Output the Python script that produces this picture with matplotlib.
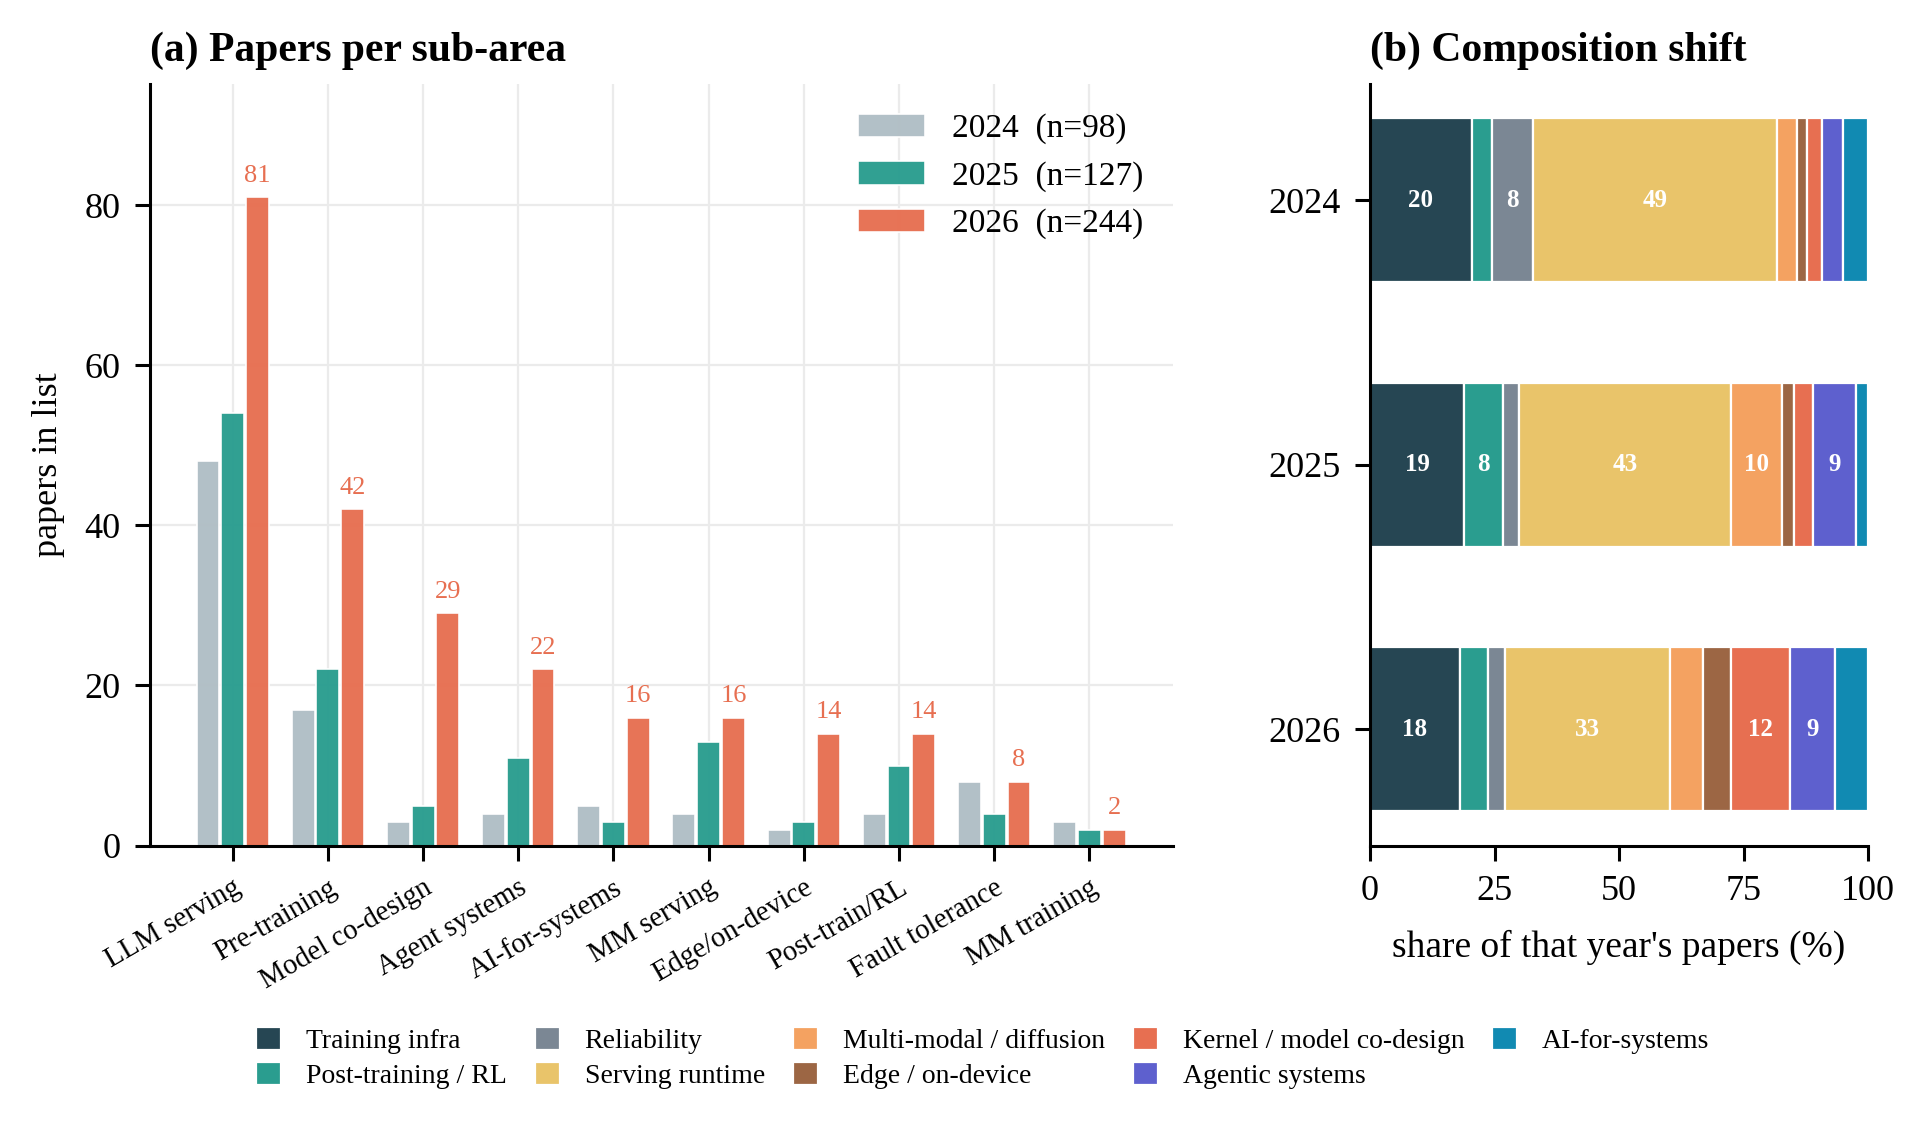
import numpy as np
import matplotlib.pyplot as plt

plt.rcParams['font.family'] = ['Liberation Serif', 'DejaVu Serif']

# papers per sub-area, by year
years = ["2024", "2025", "2026"]
subareas = ["LLM serving", "Pre-training", "Model co-design", "Agent systems",
            "AI-for-systems", "MM serving", "Edge/on-device", "Post-train/RL",
            "Fault tolerance", "MM training"]
counts_2024 = [48, 17, 3, 4, 5, 4, 2, 4, 8, 3]
counts_2025 = [54, 22, 5, 11, 3, 13, 3, 10, 4, 2]
counts_2026 = [81, 42, 29, 22, 16, 16, 14, 14, 8, 2]
year_colors = ["#b0bec5", "#2a9d8f", "#e76f51"]

# coarser groups for the composition panel
groups = ["Training infra", "Post-training / RL", "Reliability", "Serving runtime",
          "Multi-modal / diffusion", "Edge / on-device", "Kernel / model co-design",
          "Agentic systems", "AI-for-systems"]
group_2024 = [20, 4, 8, 48, 4, 2, 3, 4, 5]
group_2025 = [24, 10, 4, 54, 13, 3, 5, 11, 3]
group_2026 = [44, 14, 8, 81, 16, 14, 29, 22, 16]
group_colors = ["#264653", "#2a9d8f", "#7b8794", "#e9c46a", "#f4a261",
                "#9c6644", "#e76f51", "#5e60ce", "#118ab2"]

fig = plt.figure(figsize=(9.635, 5.645), dpi=200)
ax1 = fig.add_axes([0.0778, 0.251, 0.531, 0.675])
ax2 = fig.add_axes([0.711, 0.251, 0.2584, 0.675])

# (a) grouped bars
x = np.arange(len(subareas))
all_counts = [counts_2024, counts_2025, counts_2026]
for i, (yr, cnt, col) in enumerate(zip(years, all_counts, year_colors)):
    ax1.bar(x + (i - 1) * 0.26, cnt, width=0.24, color=col, edgecolor="white",
            linewidth=0.6, alpha=0.97, zorder=2,
            label=f"{yr}  (n={sum(cnt)})")
for xi, v in zip(x, counts_2026):
    ax1.text(xi + 0.26, v + 1.3, str(v), ha="center", va="bottom",
             fontsize=9.5, color=year_colors[2])

ax1.set_xticks(x)
ax1.set_xticklabels(subareas, rotation=30, ha="right", rotation_mode="anchor",
                    fontsize=10.3)
ax1.set_xlim(-0.87, 9.88)
ax1.set_ylim(0, max(counts_2026) * 1.175)
ax1.set_yticks([0, 20, 40, 60, 80])
ax1.tick_params(axis="y", labelsize=13)
ax1.set_ylabel("papers in list", fontsize=13, labelpad=7)
ax1.grid(True, color="#ebebeb", linewidth=0.8, zorder=0)
ax1.set_axisbelow(True)
ax1.legend(loc="upper right", frameon=False, fontsize=12)
ax1.set_title("(a) Papers per sub-area", loc="left", fontsize=15,
              fontweight="bold", pad=8)

# (b) composition shift
all_groups = [group_2024, group_2025, group_2026]
shares = np.array([np.array(g) / sum(g) * 100 for g in all_groups])
left = np.zeros(len(years))
for j, (name, col) in enumerate(zip(groups, group_colors)):
    ax2.barh(np.arange(len(years)), shares[:, j], left=left, height=0.62,
             color=col, edgecolor="white", linewidth=0.8, label=name)
    for k in range(len(years)):
        if shares[k, j] >= 7:
            ax2.text(left[k] + shares[k, j] / 2, k, f"{shares[k, j]:.0f}",
                     ha="center", va="center", color="white",
                     fontsize=9, fontweight="bold")
    left += shares[:, j]

ax2.set_yticks(np.arange(len(years)))
ax2.set_yticklabels(years)
ax2.invert_yaxis()
ax2.set_xlim(0, 100)
ax2.set_xticks([0, 25, 50, 75, 100])
ax2.tick_params(labelsize=13)
ax2.set_xlabel("share of that year's papers (%)", fontsize=13.5, labelpad=8)
ax2.set_title("(b) Composition shift", loc="left", fontsize=15,
              fontweight="bold", pad=8)

for ax in (ax1, ax2):
    ax.spines["top"].set_visible(False)
    ax.spines["right"].set_visible(False)
    ax.spines["left"].set_linewidth(1.1)
    ax.spines["bottom"].set_linewidth(1.1)
    ax.tick_params(width=1.1, length=5.5, pad=5)

handles, labels = ax2.get_legend_handles_labels()
fig.legend(handles, labels, loc="lower center", bbox_to_anchor=(0.51, 0.013),
           ncol=5, frameon=False, fontsize=10, handlelength=0.9,
           handleheight=0.9, columnspacing=1.0, labelspacing=0.3,
           handletextpad=0.9)

fig.savefig("out.png", dpi=200)
